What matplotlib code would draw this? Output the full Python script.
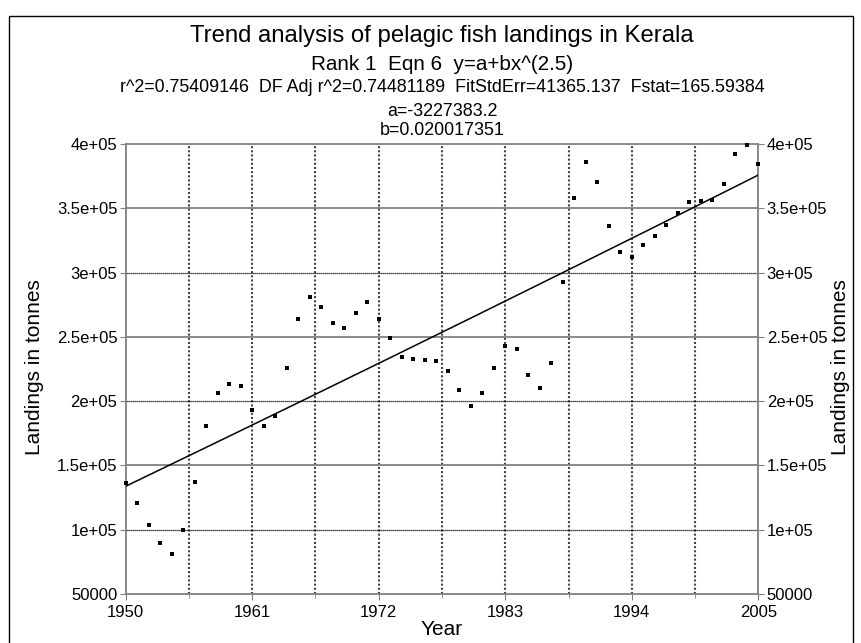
import numpy as np
import matplotlib
matplotlib.use("Agg")
import matplotlib.pyplot as plt
from matplotlib.patches import Rectangle

plt.rcParams["font.family"] = ["Liberation Sans", "DejaVu Sans"]

# data
years = list(range(1950, 2006))
landings = [
    136000, 121000, 103500, 90000, 81000, 100000, 137000, 180500,
    206000, 213000, 211500, 193000, 180500, 188700, 225500, 264000,
    281000, 273500, 261000, 257000, 268300, 277000, 264000, 249000,
    234500, 232800, 232000, 231500, 223500, 208700, 196000, 206400,
    225500, 243100, 240300, 220300, 210200, 229900, 292400, 358200,
    386200, 370200, 336000, 316000, 312400, 321200, 328700, 336800,
    346300, 355100, 355400, 356700, 369100, 392000, 399000, 384200,
]

# fitted equation y = a + b*x^2.5
fit_a = -3227383.2
fit_b = 0.020017351

x_ticks = [1950, 1961, 1972, 1983, 1994, 2005]
y_ticks = [50000, 100000, 150000, 200000, 250000, 300000, 350000, 400000]
y_tick_labels = ["50000", "1e+05", "1.5e+05", "2e+05", "2.5e+05",
                 "3e+05", "3.5e+05", "4e+05"]

title_lines = [
    ("Trend analysis of pelagic fish landings in Kerala", 17.2),
    ("Rank 1  Eqn 6  y=a+bx^(2.5)", 14.9),
    ("r^2=0.75409146  DF Adj r^2=0.74481189  FitStdErr=41365.137  "
     "Fstat=165.59384", 12.9),
    ("a=-3227383.2", 12.9),
    ("b=0.020017351", 12.9),
]
title_baselines = [42.3, 70, 92.3, 115.7, 135]

W, H = 861, 643
fig = plt.figure(figsize=(W / 100, H / 100), dpi=100)
ax_left, ax_right, ax_top, ax_bottom = 125.7, 758.3, 144, 594
ax = fig.add_axes([ax_left / W, 1 - ax_bottom / H,
                   (ax_right - ax_left) / W, (ax_bottom - ax_top) / H])

# outer frame
fig.patches.append(Rectangle((9.3 / W, -0.05), (853 - 9.3) / W,
                             1.05 - 16 / H, transform=fig.transFigure,
                             fill=False, edgecolor="black", lw=1.0))

ax.set_xlim(1950, 2005)
ax.set_ylim(50000, 400000)

# grid
for gx in np.arange(1955.5, 2005, 5.5):
    ax.axvline(gx, color="#444444", lw=1.5, ls=(0, (1, 1)), zorder=1)
for gy in y_ticks[1:-1]:
    if gy % 100000 == 0:
        ax.axhline(gy, color="black", lw=0.9, ls=(0, (1, 0.6)), zorder=1)
    else:
        ax.axhline(gy, color="#808080", lw=1.3, zorder=1)

xs = np.linspace(1950, 2005, 200)
ax.plot(xs, fit_a + fit_b * xs ** 2.5, color="black", lw=1.1, zorder=3)
ax.plot(years, landings, ls="none", marker="s", ms=2.3, mew=0,
        color="black", zorder=4, clip_on=False)

for s in ax.spines.values():
    s.set_color("#808080")
    s.set_linewidth(1.3)

ax.set_xticks(x_ticks)
ax.set_xticks(np.arange(1955.5, 2005, 5.5), minor=True)
ax.set_yticks(y_ticks)
ax.set_yticklabels(y_tick_labels)
ax.tick_params(axis="both", which="both", direction="out", length=4,
               color="#808080", labelsize=12, pad=2)
ax.tick_params(axis="y", right=True, labelright=True)
ax.tick_params(axis="x", which="minor", length=3)
ax.tick_params(axis="x", pad=4)

ax.set_xlabel("Year", fontsize=15, labelpad=0)

fig.text(35 / W, 1 - 367 / H, "Landings in tonnes", rotation=90,
         ha="center", va="center", fontsize=15)
fig.text(841 / W, 1 - 367 / H, "Landings in tonnes", rotation=90,
         ha="center", va="center", fontsize=15)

cx = (ax_left + ax_right) / 2 / W
for (txt, size), base in zip(title_lines, title_baselines):
    fig.text(cx, 1 - base / H, txt, ha="center", va="baseline",
             fontsize=size)

fig.savefig("out.png", dpi=100)
